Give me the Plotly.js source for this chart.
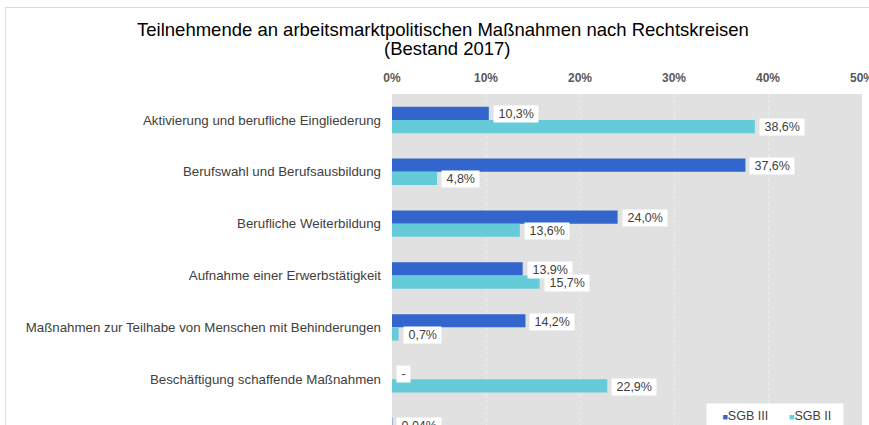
<!DOCTYPE html>
<html>
<head>
<meta charset="utf-8">
<script src="https://cdn.plot.ly/plotly-3.0.1.min.js"></script>
<style>
  html, body { margin: 0; padding: 0; background: #ffffff; overflow: hidden; width: 869px; height: 425px; }
  #frame { position: absolute; left: 5px; top: 7px; width: 900px; height: 500px; border: 1px solid #dcdcdc; }
  #chart { position: absolute; left: 0; top: 0; width: 869px; height: 470px; }
</style>
</head>
<body>
<div id="frame"></div>
<div id="chart"></div>
<script>
// ---- data ----
const categories = [
  'Aktivierung und berufliche Eingliederung',
  'Berufswahl und Berufsausbildung',
  'Berufliche Weiterbildung',
  'Aufnahme einer Erwerbstätigkeit',
  'Maßnahmen zur Teilhabe von Menschen mit Behinderungen',
  'Beschäftigung schaffende Maßnahmen',
  'Freie Förderung'
];
const sgb3Values = [10.3, 37.6, 24.0, 13.9, 14.2, null, 0.04];
const sgb2Values = [38.6, 4.8, 13.6, 15.7, 0.7, 22.9, null];
const sgb3Labels = ['10,3%', '37,6%', '24,0%', '13,9%', '14,2%', '-', '0,04%'];
const sgb2Labels = ['38,6%', '4,8%', '13,6%', '15,7%', '0,7%', '22,9%', ''];
const seriesNames = ['SGB III', 'SGB II'];
const xTickVals = [0, 10, 20, 30, 40, 50];
const xTickText = ['0%', '10%', '20%', '30%', '40%', '50%'];
const titleLine1 = 'Teilnehmende an arbeitsmarktpolitischen Maßnahmen nach Rechtskreisen';
const titleLine2 = '(Bestand 2017)';

const colors = ['#3366cc', '#66cbd8'];
const labelFont = { family: 'Liberation Sans, Arial, sans-serif', size: 12.5, color: '#404040' };
const titleFont = { family: 'Liberation Sans, Arial, sans-serif', size: 18.5, color: '#000000' };

const traces = [
  { type: 'bar', orientation: 'h', name: seriesNames[0], y: categories, x: sgb3Values,
    marker: { color: colors[0] }, showlegend: false, hoverinfo: 'skip' },
  { type: 'bar', orientation: 'h', name: seriesNames[1], y: categories, x: sgb2Values,
    marker: { color: colors[1] }, showlegend: false, hoverinfo: 'skip' }
];

const annotations = [];
function addLabels(values, labels, yshift) {
  categories.forEach((c, i) => {
    if (!labels[i]) return;
    annotations.push({
      x: values[i] === null ? 0 : values[i], y: c, xref: 'x', yref: 'y',
      text: ' ' + labels[i] + ' ', showarrow: false, xanchor: 'left', yanchor: 'middle',
      xshift: 4, yshift: yshift, bgcolor: '#ffffff', borderpad: 1,
      font: labelFont
    });
  });
}
addLabels(sgb3Values, sgb3Labels, 5.5);
addLabels(sgb2Values, sgb2Labels, -7.5);

// legend box (drawn as a text box so it matches the compact original)
const legendText = '   ' + seriesNames.map((n, i) =>
  '<span style="font-size:9px;fill:' + colors[i] + '">■</span>' + n).join('      ') + '  ';
annotations.push({
  x: 0.668, y: 0.149, xref: 'paper', yref: 'paper', xanchor: 'left', yanchor: 'top',
  text: legendText, showarrow: false, bgcolor: '#ffffff', borderpad: 5, font: labelFont
});

// second title line
annotations.push({
  x: (447 - 392) / 470, y: 1 + (94 - 49) / 362.6, xref: 'paper', yref: 'paper', showarrow: false,
  text: titleLine2, xanchor: 'center', yanchor: 'middle', font: titleFont
});

const layout = {
  width: 869, height: 470,
  margin: { l: 392, r: 7, t: 94, b: 13 },
  paper_bgcolor: 'rgba(0,0,0,0)',
  plot_bgcolor: '#e1e1e1',
  barmode: 'group', bargap: 0.49, bargroupgap: 0,
  showlegend: false,
  title: {
    text: titleLine1, x: 443 / 869, xanchor: 'center', xref: 'container',
    y: 1 - 29.5 / 470, yanchor: 'middle', yref: 'container',
    font: titleFont
  },
  xaxis: {
    side: 'top', range: [0, 50], tickvals: xTickVals, ticktext: xTickText,
    showgrid: true, gridcolor: '#ececec', griddash: 'dot', zeroline: false, showline: false,
    ticks: '', ticklabelstandoff: 9, ticklabeloverflow: 'allow',
    tickfont: { family: 'Liberation Sans Narrow, Liberation Sans, Arial, sans-serif', size: 12, color: '#595959', weight: 'bold' },
    fixedrange: true
  },
  yaxis: {
    type: 'category', autorange: 'reversed', showgrid: false, zeroline: false, showline: false,
    ticks: '', ticklabelstandoff: 10,
    tickfont: { family: 'Liberation Sans, Arial, sans-serif', size: 13.3, color: '#404040' },
    fixedrange: true
  },
  annotations: annotations
};

Plotly.newPlot('chart', traces, layout, { displayModeBar: false, staticPlot: true });
</script>
</body>
</html>
